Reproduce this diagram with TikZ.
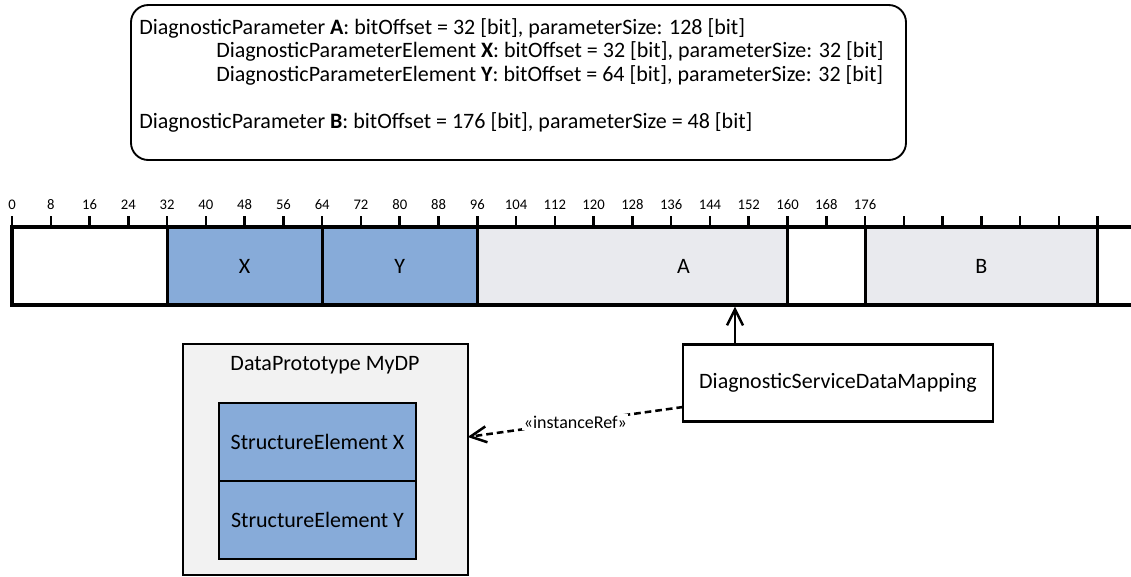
\documentclass[tikz,border=0pt]{standalone}
\usepackage{fontspec}
\setmainfont{Carlito}
\usetikzlibrary{positioning,arrows.meta}

\definecolor{elemblue}{HTML}{87ABD9}
\definecolor{paramgray}{HTML}{E9EAEE}
\definecolor{protogray}{HTML}{F2F2F2}

\begin{document}
\begin{tikzpicture}[x=0.75pt,y=-0.75pt,
    mainfont/.style={font=\fontsize{16.5}{19}\selectfont},
    barline/.style={line width=2.3pt},
    bittick/.style={line width=1.9pt},
    ticklabel/.style={font=\fontsize{11}{13}\selectfont,inner sep=0pt},
    segment/.style={draw=black,line width=2.3pt,inner sep=0pt,
                    minimum height=58.5pt,mainfont},
    umlbox/.style={draw=black,line width=1.8pt,inner sep=0pt,outer sep=0pt,mainfont},
    refarrow/.style={-{Straight Barb[length=12pt,width=12pt,line width=1.9pt]},line width=1.9pt},
    refline/.style={refarrow,dash pattern=on 5pt off 3pt},
    reflabel/.style={fill=white,inner sep=1pt,font=\fontsize{13.5}{15}\selectfont}
  ]
    \useasboundingbox (0,0) rectangle (1131,576);

    % parameter description
    \node[draw=black,line width=1.4pt,rounded corners=13pt,
          minimum width=581.25pt,minimum height=116.25pt] (params) at (518.5,82.5) {};
    \node[anchor=north west,align=left,inner sep=0pt,
          font=\fontsize{16.5}{17.6}\selectfont] (paramlines) at (139,18)
      {DiagnosticParameter \textbf{A}: bitOffset = 32 [bit], parameterSize: 128 [bit]\\
       \hspace*{57.75pt}DiagnosticParameterElement \textbf{X}: bitOffset = 32 [bit], parameterSize: 32 [bit]\\
       \hspace*{57.75pt}DiagnosticParameterElement \textbf{Y}: bitOffset = 64 [bit], parameterSize: 32 [bit]\\[17.6pt]
       DiagnosticParameter \textbf{B}: bitOffset = 176 [bit], parameterSize = 48 [bit]};

    % bit ruler
    \foreach \b in {0,8,...,224}
      \draw[bittick] ({12+\b*4.847},227) -- ++(0,-11);
    \foreach \b in {0,8,...,176}
      \node[ticklabel] (bit\b) at ({12+\b*4.847},205) {\b};

    % segments
    \node[segment,fill=elemblue,minimum width=116.3pt] (segX) at ({12+48*4.847},266) {X};
    \node[segment,fill=elemblue,minimum width=116.3pt] (segY) at ({12+80*4.847},266) {Y};
    \node[segment,fill=paramgray,minimum width=232.6pt,
          label={[xshift=38.3pt,mainfont]center:A}] (segA) at ({12+128*4.847},266) {};
    \node[segment,fill=paramgray,minimum width=174.5pt] (segB) at ({12+200*4.847},266) {B};
    \draw[barline] (1131,227) -- (12,227) -- (12,305) -- (1131,305);

    % data prototype
    \node[umlbox,fill=protogray,minimum width=213.75pt,minimum height=173.25pt] (proto) at (325.2,459.5) {};
    \node[mainfont,inner sep=0pt] (prototitle) at (325,365) {DataPrototype MyDP};
    \node[umlbox,fill=elemblue,minimum width=147.75pt,minimum height=58.5pt] (elemX) at (317.5,442) {StructureElement X};
    \node[umlbox,fill=elemblue,minimum width=147.75pt,minimum height=58.5pt,below=0pt of elemX] (elemY) {StructureElement Y};

    % mapping
    \node[umlbox,fill=white,minimum width=232.5pt,minimum height=58pt] (map) at (838,383) {DiagnosticServiceDataMapping};
    \coordinate (mapport) at ([xshift=-77.25pt]map.north);
    \draw[refarrow] (mapport) -- (mapport |- segA.south);
    \draw[refline] ([yshift=-18pt]map.west) -- node[reflabel] (reflbl) {«instanceRef»} ([yshift=16.9pt]proto.east);
\end{tikzpicture}
\end{document}
